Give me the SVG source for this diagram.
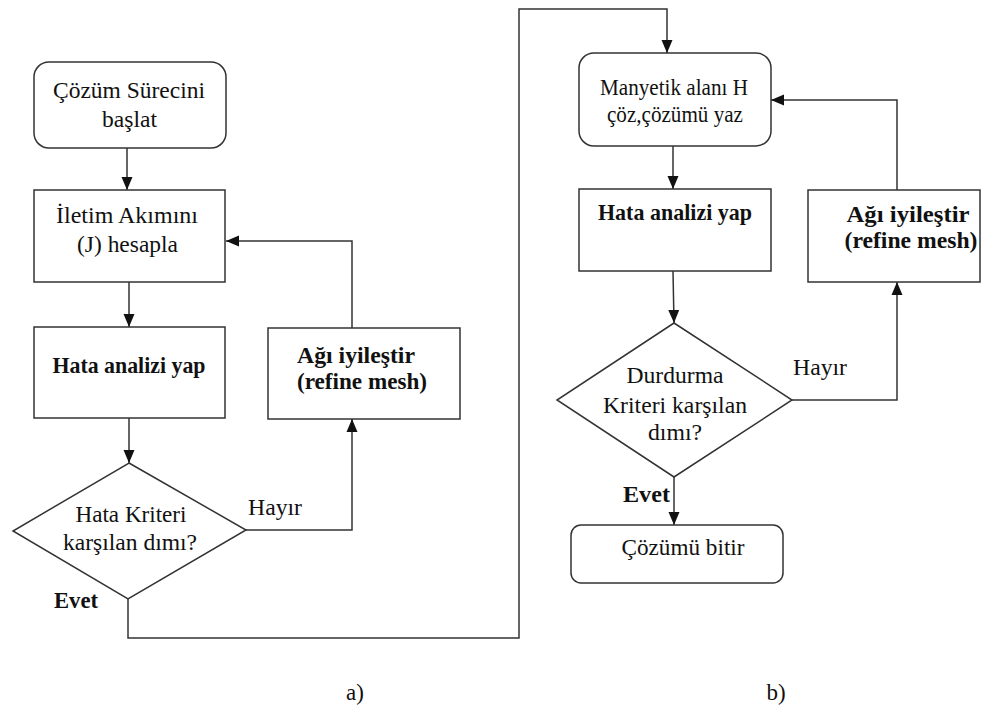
<svg xmlns="http://www.w3.org/2000/svg" width="990" height="713" viewBox="0 0 990 713">
<defs>
<style>
.box{fill:#fff;stroke:#333;stroke-width:1.5}
.ln{fill:none;stroke:#333;stroke-width:1.5}
.ar{marker-end:url(#ah)}
text{font-family:'Liberation Serif','Times New Roman','DejaVu Serif',serif;font-size:23px;fill:#111;text-anchor:middle}
.b{font-weight:bold}
.l{text-anchor:start}
</style>
<marker id="ah" markerUnits="userSpaceOnUse" markerWidth="14" markerHeight="14" viewBox="0 0 14 14" refX="13" refY="7" orient="auto">
<path d="M0,1.5 L13,7 L0,12.5 Z" fill="#111"/>
</marker>
</defs>
<rect width="990" height="713" fill="#fff"/>
<g id="connectors">
<path class="ln ar" d="M127,148 V190"/>
<path class="ln ar" d="M129,282 V327"/>
<path class="ln ar" d="M129,418 V463"/>
<path class="ln ar" d="M246,530 H352 V419"/>
<path class="ln ar" d="M352,328 V241 H226"/>
<path class="ln ar" d="M128,599 V638 H519 V9 H667 V53"/>
<path class="ln ar" d="M673,146 V189"/>
<path class="ln ar" d="M673,271 L674,323"/>
<path class="ln ar" d="M792,400 H897 V282"/>
<path class="ln ar" d="M897,190 V100 H771"/>
<path class="ln ar" d="M674,477 V525"/>
</g>
<g id="start">
<rect class="box" x="34" y="62" width="192" height="86" rx="15"/>
<text x="129" y="98" textLength="152" lengthAdjust="spacingAndGlyphs">Çözüm Sürecini</text>
<text x="129.5" y="127" textLength="55" lengthAdjust="spacingAndGlyphs">başlat</text>
</g>
<g id="current">
<rect class="box" x="34" y="190" width="191" height="92"/>
<text x="127" y="223" textLength="142" lengthAdjust="spacingAndGlyphs">İletim Akımını</text>
<text x="127.5" y="252" textLength="101" lengthAdjust="spacingAndGlyphs">(J) hesapla</text>
</g>
<g id="error-a">
<rect class="box" x="34" y="327" width="191" height="91"/>
<text class="b" x="129" y="373" textLength="153" lengthAdjust="spacingAndGlyphs">Hata analizi yap</text>
</g>
<g id="refine-a">
<rect class="box" x="268" y="328" width="192" height="91"/>
<text class="b" x="356" y="363" textLength="118" lengthAdjust="spacingAndGlyphs">Ağı iyileştir</text>
<text class="b" x="362" y="389" textLength="130" lengthAdjust="spacingAndGlyphs">(refine mesh)</text>
</g>
<g id="decision-a">
<path class="box" d="M129,463 L246,530 L128,599 L13,531 Z"/>
<text x="131" y="522" textLength="111" lengthAdjust="spacingAndGlyphs">Hata Kriteri</text>
<text x="130" y="550" textLength="134" lengthAdjust="spacingAndGlyphs">karşılan dımı?</text>
</g>
<g id="labels-a">
<text class="l" x="248" y="515" textLength="54" lengthAdjust="spacingAndGlyphs">Hayır</text>
<text class="b l" x="54" y="608" textLength="44" lengthAdjust="spacingAndGlyphs">Evet</text>
<text x="355" y="700">a)</text>
</g>
<g id="solve-h">
<rect class="box" x="579" y="53" width="192" height="93" rx="15"/>
<text x="674" y="95" textLength="148" lengthAdjust="spacingAndGlyphs">Manyetik alanı H</text>
<text x="675" y="122" textLength="136" lengthAdjust="spacingAndGlyphs">çöz,çözümü yaz</text>
</g>
<g id="error-b">
<rect class="box" x="579" y="189" width="192" height="82"/>
<text class="b" x="675" y="220" textLength="154" lengthAdjust="spacingAndGlyphs">Hata analizi yap</text>
</g>
<g id="refine-b">
<rect class="box" x="808" y="190" width="172" height="92"/>
<text class="b" x="908" y="222" textLength="123" lengthAdjust="spacingAndGlyphs">Ağı iyileştir</text>
<text class="b" x="911" y="248" textLength="133" lengthAdjust="spacingAndGlyphs">(refine mesh)</text>
</g>
<g id="decision-b">
<path class="box" d="M674,323 L792,400 L674,477 L557,400 Z"/>
<text x="675" y="383" textLength="97" lengthAdjust="spacingAndGlyphs">Durdurma</text>
<text x="675" y="413" textLength="144" lengthAdjust="spacingAndGlyphs">Kriteri karşılan</text>
<text x="675" y="440" textLength="54" lengthAdjust="spacingAndGlyphs">dımı?</text>
</g>
<g id="finish">
<rect class="box" x="571" y="525" width="212" height="58" rx="10"/>
<text x="683" y="555" textLength="123" lengthAdjust="spacingAndGlyphs">Çözümü bitir</text>
</g>
<g id="labels-b">
<text class="l" x="793" y="375" textLength="54" lengthAdjust="spacingAndGlyphs">Hayır</text>
<text class="b l" x="623" y="502" textLength="47" lengthAdjust="spacingAndGlyphs">Evet</text>
<text x="776" y="700">b)</text>
</g>
</svg>
